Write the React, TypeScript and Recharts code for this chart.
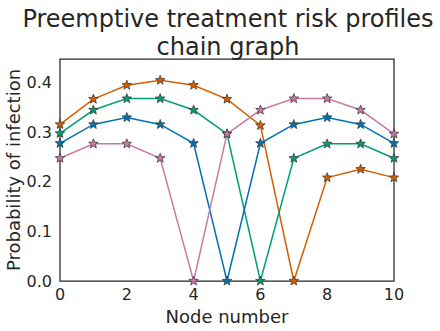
import React from 'react';
import { LineChart, Line, XAxis, YAxis, ReferenceArea } from 'recharts';

// node index along the chain
const nodes = [0, 1, 2, 3, 4, 5, 6, 7, 8, 9, 10];

// infection probability per node, one series per treated node
const treatNode4 = [0.247, 0.276, 0.276, 0.247, 0, 0.296, 0.344, 0.367, 0.367, 0.344, 0.296];
const treatNode5 = [0.277, 0.315, 0.329, 0.315, 0.277, 0, 0.277, 0.315, 0.329, 0.315, 0.277];
const treatNode6 = [0.297, 0.344, 0.367, 0.367, 0.344, 0.296, 0, 0.247, 0.276, 0.276, 0.247];
const treatNode7 = [0.315, 0.366, 0.394, 0.404, 0.394, 0.366, 0.313, 0, 0.208, 0.225, 0.208];

const xTicks = [0, 2, 4, 6, 8, 10];
const yTicks = [0, 0.1, 0.2, 0.3, 0.4];
const Y_MAX = 0.4467;

const SERIES = [
  { key: 'n7', values: treatNode7, color: '#D55E00' },
  { key: 'n6', values: treatNode6, color: '#009E73' },
  { key: 'n5', values: treatNode5, color: '#0072B2' },
  { key: 'n4', values: treatNode4, color: '#CC79A7' },
];

const data = nodes.map((n, i) => {
  const row: any = { node: n };
  SERIES.forEach(s => { row[s.key] = s.values[i]; });
  return row;
});

const TEXT = '#262626';
const FONT = '"DejaVu Sans", sans-serif';

// star marker drawn around the point
const Star = (props: any) => {
  const { cx, cy, fill } = props;
  if (cx == null || cy == null) return null;
  const R = 5, r = 2.1;
  const pts: string[] = [];
  for (let k = 0; k < 10; k++) {
    const rad = k % 2 === 0 ? R : r;
    const a = -Math.PI / 2 + (k * Math.PI) / 5;
    pts.push(`${cx + rad * Math.cos(a)},${cy + rad * Math.sin(a)}`);
  }
  return <polygon points={pts.join(' ')} fill={fill} stroke="#3d3d3d" strokeWidth={0.8} />;
};

export default function App() {
  return (
    <div style={{ position: 'absolute', left: 0, top: 0, width: 440, height: 331, fontFamily: FONT }}>
      <svg width={440} height={60} style={{ position: 'absolute', left: 0, top: 0 }}>
        <text x={228} y={27} textAnchor="middle" fontSize={24} fill={TEXT} fontFamily={FONT}>
          Preemptive treatment risk profiles
        </text>
        <text x={228} y={55} textAnchor="middle" fontSize={24} fill={TEXT} fontFamily={FONT}>
          chain graph
        </text>
      </svg>
      <LineChart width={440} height={331} data={data} margin={{ top: 59, right: 46, bottom: 0, left: 10 }}>
        <XAxis
          dataKey="node"
          type="number"
          domain={[0, 10]}
          ticks={xTicks}
          tickLine={false}
          axisLine={false}
          tick={{ fill: TEXT, fontSize: 16, fontFamily: FONT }}
          height={50}
          label={{ value: 'Node number', position: 'insideBottom', offset: 8, fill: TEXT, fontSize: 18, fontFamily: FONT }}
        />
        <YAxis
          domain={[0, Y_MAX]}
          ticks={yTicks}
          tickFormatter={(v: number) => v.toFixed(1)}
          tickLine={false}
          axisLine={false}
          tick={{ fill: TEXT, fontSize: 16, fontFamily: FONT }}
          width={50}
          label={{ value: 'Probability of infection', angle: -90, position: 'insideLeft', offset: 4, fill: TEXT, fontSize: 18, fontFamily: FONT, style: { textAnchor: 'middle' } }}
        />
        {SERIES.map(s => (
          <Line
            key={s.key}
            dataKey={s.key}
            stroke={s.color}
            strokeWidth={1.5}
            dot={<Star fill={s.color} />}
            activeDot={false}
            isAnimationActive={false}
          />
        ))}
        <ReferenceArea x1={0} x2={10} y1={0} y2={Y_MAX} fill="none" fillOpacity={0} stroke={TEXT} strokeWidth={1.25} ifOverflow="visible" />
      </LineChart>
    </div>
  );
}
